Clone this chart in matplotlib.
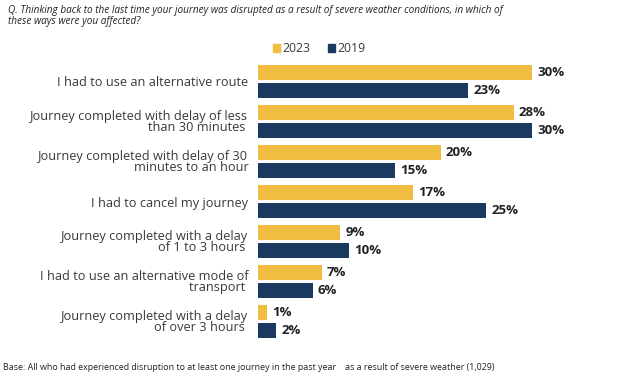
import matplotlib
matplotlib.use("Agg")
import matplotlib.pyplot as plt
from matplotlib.patches import Rectangle

categories = [
    "I had to use an alternative route",
    "Journey completed with delay of less\nthan 30 minutes ",
    "Journey completed with delay of 30\nminutes to an hour",
    "I had to cancel my journey",
    "Journey completed with a delay\nof 1 to 3 hours ",
    "I had to use an alternative mode of\ntransport ",
    "Journey completed with a delay\nof over 3 hours ",
]
values_2023 = [30, 28, 20, 17, 9, 7, 1]
values_2019 = [23, 30, 15, 25, 10, 6, 2]
series_names = ["2023", "2019"]

YELLOW = "#F0BC42"
NAVY = "#1B3A5F"
TEXT = "#3a3a3a"

plt.rcParams['font.family'] = ['Open Sans', 'DejaVu Sans']

W, H = 624, 392
fig = plt.figure(figsize=(W / 100, H / 100), dpi=100)

ax_left, ax_right = 258, 600
ax_top, ax_bottom = 65, 341
ax = fig.add_axes([ax_left / W, 1 - ax_bottom / H, (ax_right - ax_left) / W, (ax_bottom - ax_top) / H])

scale = 274 / 30.0
xmax = (ax_right - ax_left) / scale
off = 0.225
bh = 0.375
ys = list(range(len(categories)))
ax.barh([y - off for y in ys], values_2023, height=bh, color=YELLOW)
ax.barh([y + off for y in ys], values_2019, height=bh, color=NAVY)

pad = 5 / scale
for y, v in zip(ys, values_2023):
    ax.text(v + pad, y - off, f"{v}%", va="center", ha="left", fontsize=9.5, fontweight="bold", color="#222222")
for y, v in zip(ys, values_2019):
    ax.text(v + pad, y + off, f"{v}%", va="center", ha="left", fontsize=9.5, fontweight="bold", color="#222222")

ax.set_xlim(0, xmax)
ax.set_ylim(6 + 19.5 / 40, -16.5 / 40)
ax.set_yticks(ys)
ax.set_yticklabels(categories, fontsize=9.2, color=TEXT, linespacing=0.8)
ax.tick_params(axis="y", length=0, pad=7)
ax.set_xticks([])
for s in ax.spines.values():
    s.set_visible(False)

# Title
fig.text(8 / W, 1 - 5 / H,
         "Q. Thinking back to the last time your journey was disrupted as a result of severe weather conditions, in which of\nthese ways were you affected?",
         ha="left", va="top", fontsize=7.2, style="italic", color="#222222", linespacing=0.95)

# Legend
ly = 1 - 48 / H
fig.patches.append(Rectangle((273 / W, ly - 4 / H), 7 / W, 8 / H, transform=fig.transFigure, color=YELLOW))
fig.text(282 / W, ly, series_names[0], ha="left", va="center", fontsize=8.8, color=TEXT)
fig.patches.append(Rectangle((328 / W, ly - 4 / H), 7 / W, 8 / H, transform=fig.transFigure, color=NAVY))
fig.text(337 / W, ly, series_names[1], ha="left", va="center", fontsize=8.8, color=TEXT)

# Footer
fig.text(3 / W, 1 - 368 / H,
         "Base: All who had experienced disruption to at least one journey in the past year    as a result of severe weather (1,029)",
         ha="left", va="center", fontsize=6.4, color="#222222")

fig.savefig("out.png", dpi=100)
